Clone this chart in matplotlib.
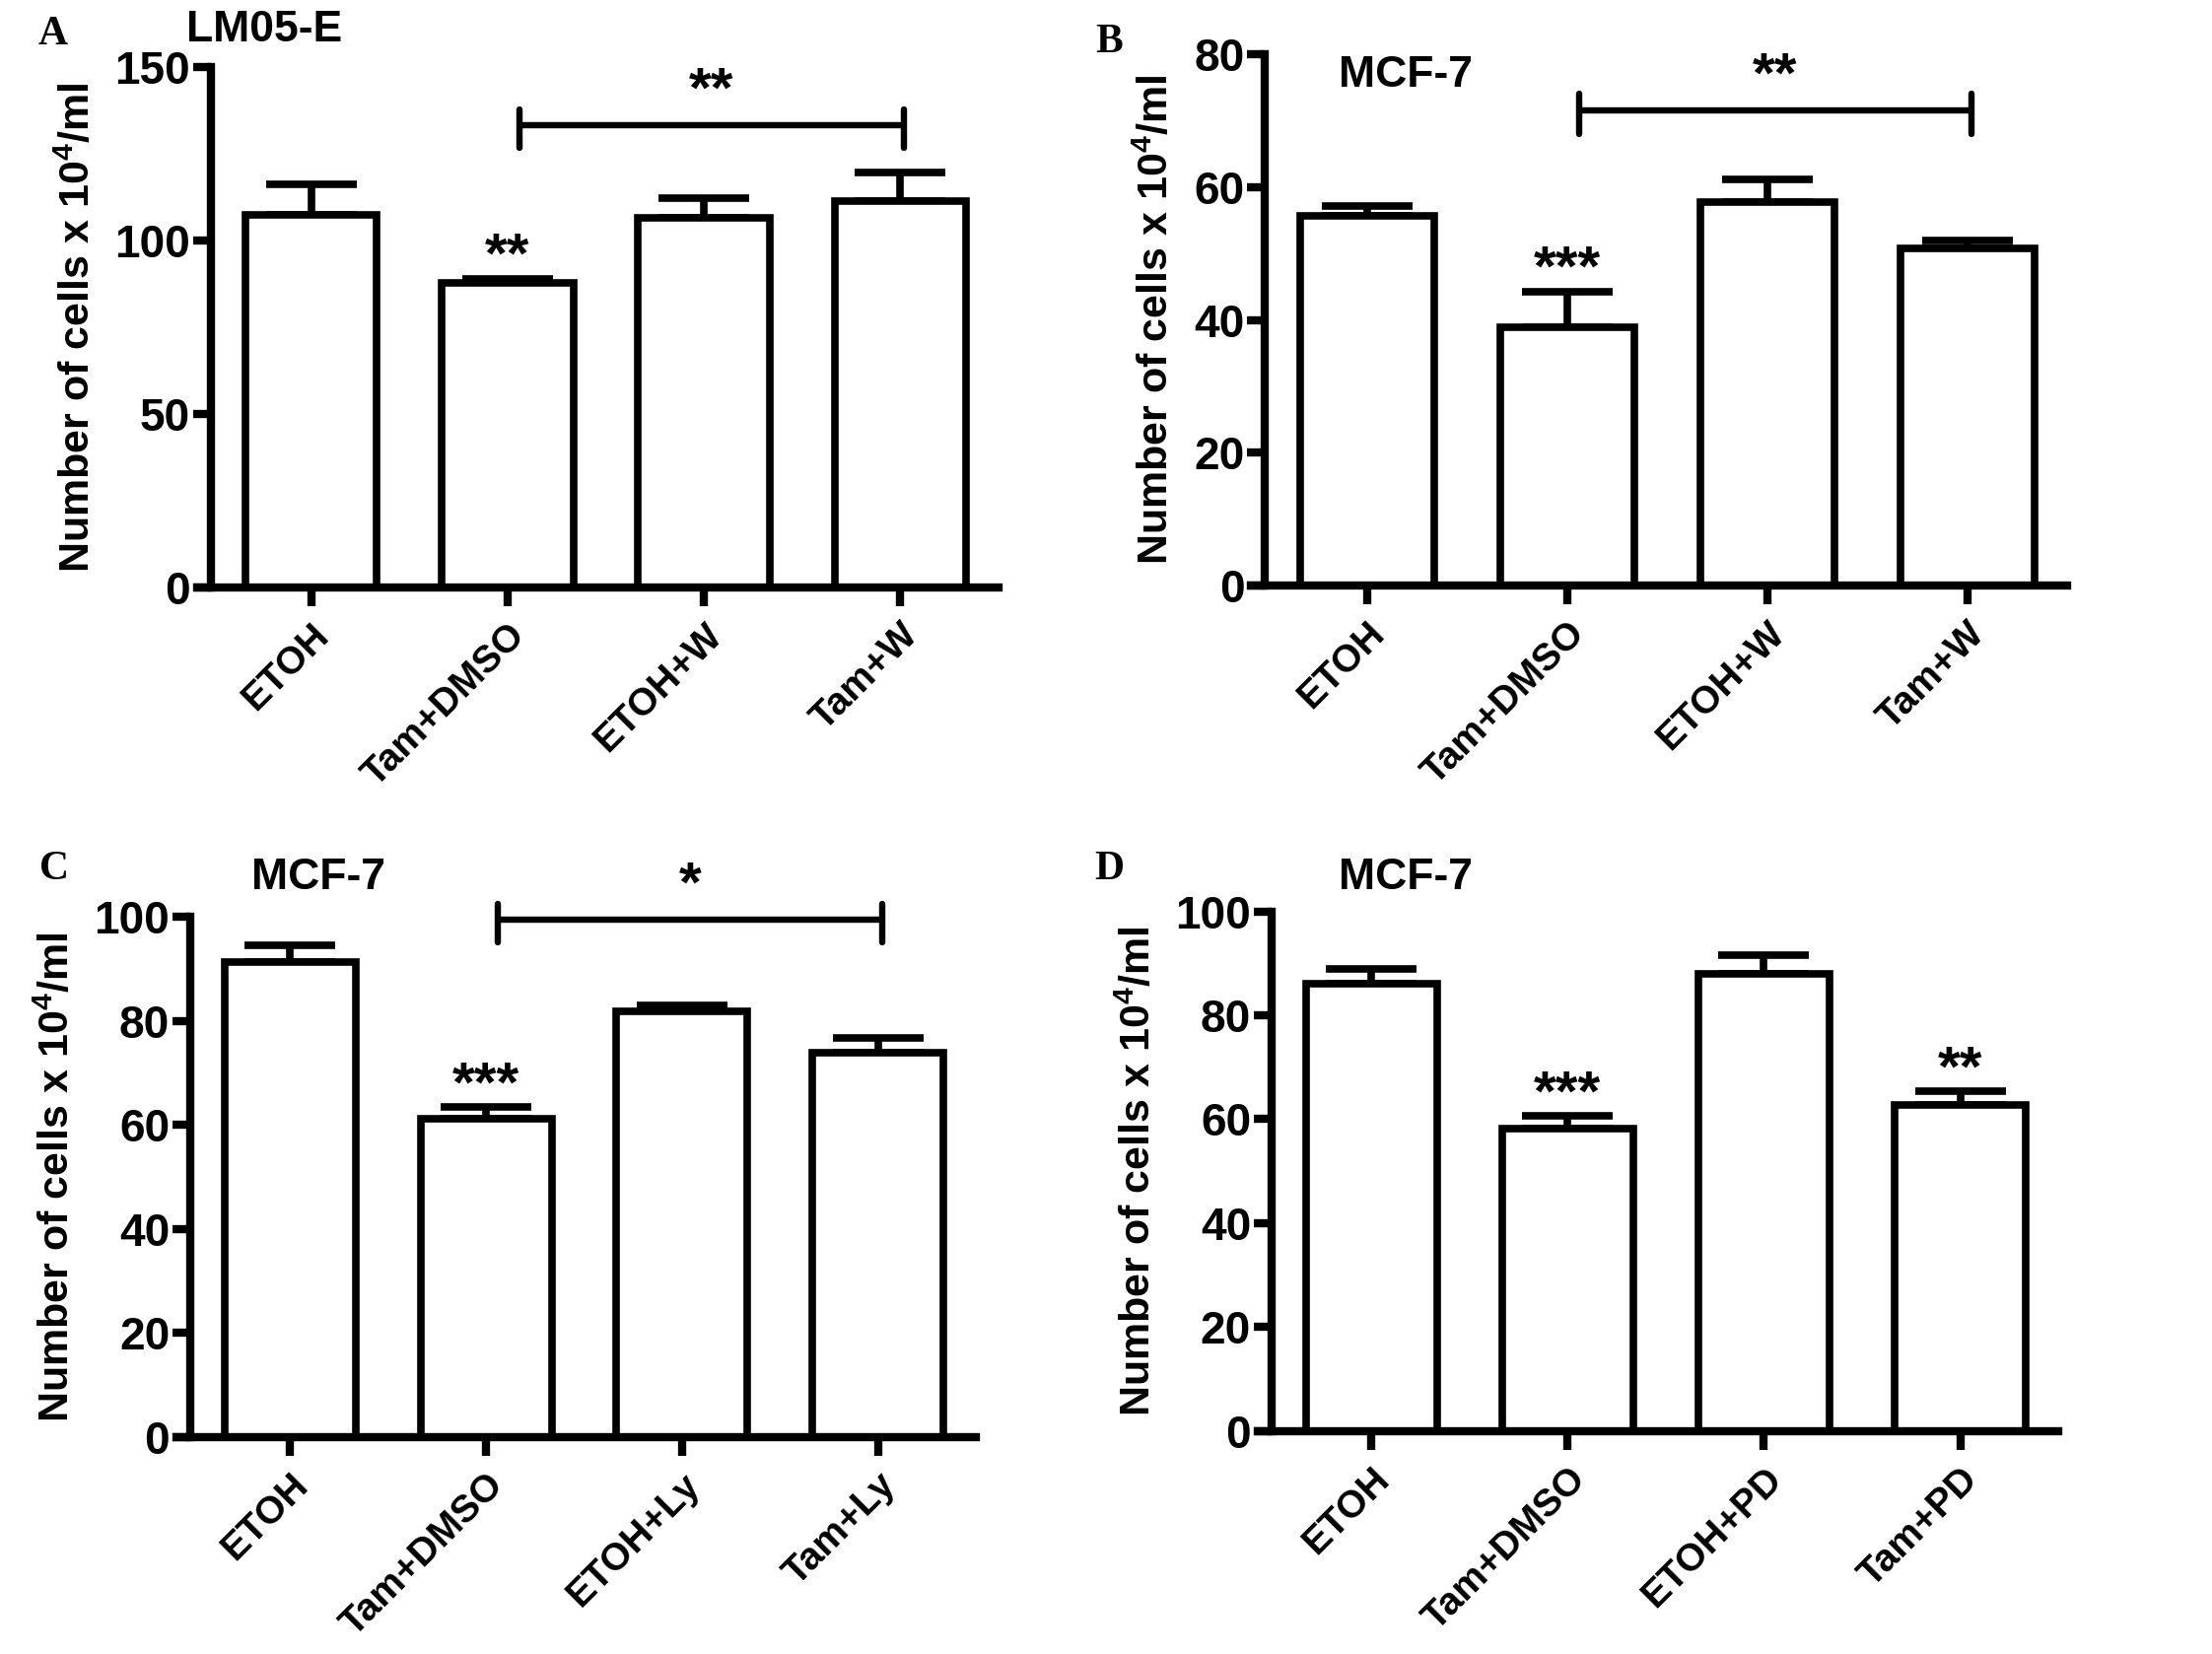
import matplotlib
matplotlib.use("Agg")
import matplotlib.pyplot as plt
from matplotlib import font_manager

# ---------------------------------------------------------------------------
# Data
# ---------------------------------------------------------------------------

cats_a = ["ETOH", "Tam+DMSO", "ETOH+W", "Tam+W"]
vals_a = [107.3, 87.7, 106.5, 111.4]
errs_a = [8.8, 1.3, 5.8, 8.2]
stars_a = ["", "**", "", ""]
ticks_a = [0, 50, 100, 150]

cats_b = ["ETOH", "Tam+DMSO", "ETOH+W", "Tam+W"]
vals_b = [55.6, 38.9, 57.7, 50.8]
errs_b = [1.6, 5.4, 3.5, 1.1]
stars_b = ["", "***", "", ""]
ticks_b = [0, 20, 40, 60, 80]

cats_c = ["ETOH", "Tam+DMSO", "ETOH+Ly", "Tam+Ly"]
vals_c = [91.2, 61.2, 81.9, 73.9]
errs_c = [3.3, 2.3, 1.1, 2.8]
stars_c = ["", "***", "", ""]
ticks_c = [0, 20, 40, 60, 80, 100]

cats_d = ["ETOH", "Tam+DMSO", "ETOH+PD", "Tam+PD"]
vals_d = [86.0, 58.1, 88.0, 62.7]
errs_d = [3.0, 2.6, 3.6, 2.6]
stars_d = ["", "***", "", "**"]
ticks_d = [0, 20, 40, 60, 80, 100]

# bracket: (from bar, to bar, level, label)
bracket_a = (1, 3, 133.3, "**")
bracket_b = (1, 3, 71.6, "**")
bracket_c = (1, 3, 99.5, "*")
bracket_d = None

titles = ["LM05-E", "MCF-7", "MCF-7", "MCF-7"]
letters = ["A", "B", "C", "D"]

# ---------------------------------------------------------------------------
# Fonts
# ---------------------------------------------------------------------------

installed = {f.name for f in font_manager.fontManager.ttflist}
NARROW = "Liberation Sans Narrow" if "Liberation Sans Narrow" in installed else "Liberation Sans"
SANS = "Liberation Sans"
SERIF = "Liberation Serif"

plt.rcParams["font.family"] = [NARROW, "DejaVu Sans"]
plt.rcParams["font.weight"] = "bold"
plt.rcParams["axes.labelweight"] = "bold"
plt.rcParams["mathtext.fontset"] = "custom"
plt.rcParams["mathtext.rm"] = NARROW + ":bold"
plt.rcParams["mathtext.bf"] = NARROW + ":bold"
plt.rcParams["mathtext.default"] = "bf"

LW = 5.5

# ---------------------------------------------------------------------------
# Drawing
# ---------------------------------------------------------------------------


def draw_panel(ax, cats, vals, errs, stars, ticks, bracket):
    x = list(range(len(cats)))
    ax.bar(x, vals, width=0.67, color="white", edgecolor="black",
           linewidth=LW, zorder=2)
    ax.errorbar(x, vals, yerr=[[0] * len(errs), errs], fmt="none",
                ecolor="black", elinewidth=LW, capsize=33, capthick=LW,
                zorder=1)

    ymax = ticks[-1]
    ax.set_xlim(-0.58, 3.5)
    ax.set_ylim(0, ymax)
    ax.set_yticks(ticks)
    ax.set_xticks(x)
    ax.set_xticklabels(cats, rotation=45, ha="right", va="top",
                       rotation_mode="anchor", fontsize=28)
    ax.tick_params(axis="y", labelsize=33, length=13, width=6, pad=2)
    ax.tick_params(axis="x", length=14, width=6, pad=8)

    for side in ("top", "right"):
        ax.spines[side].set_visible(False)
    ax.spines["left"].set_position(("data", -0.51))
    ax.spines["left"].set_linewidth(6)
    ax.spines["bottom"].set_linewidth(6)

    ax.set_ylabel(r"Number of cells x 10$^{4}$/ml", fontsize=31, labelpad=12)

    for xi, v, e, s in zip(x, vals, errs, stars):
        if s:
            ax.annotate(s, (xi, v + e), xytext=(0, 4), textcoords="offset points",
                        ha="center", va="baseline", fontsize=42,
                        family=SANS, annotation_clip=False)

    if bracket is not None:
        i0, i1, level, label = bracket
        x0, x1 = i0 + 0.06, i1 + 0.02
        dy = ymax * 0.03
        ax.plot([x0, x1], [level, level], color="black", lw=4.6,
                solid_capstyle="butt", clip_on=False)
        for xe in (x0, x1):
            ax.plot([xe, xe], [level - dy * 1.5, level + dy], color="black",
                    lw=4.6, solid_capstyle="round", clip_on=False)
        ax.annotate(label, ((x0 + x1) / 2, level), xytext=(0, 13),
                    textcoords="offset points", ha="center", va="baseline",
                    fontsize=42, family=SANS, annotation_clip=False)


fig = plt.figure(figsize=(22.44, 16.78), dpi=100)

positions = [
    [0.0891, 0.6451, 0.3623, 0.3144],
    [0.5655, 0.6460, 0.3690, 0.3212],
    [0.0798, 0.1311, 0.3614, 0.3147],
    [0.5686, 0.1349, 0.3619, 0.3141],
]
panels = [
    (cats_a, vals_a, errs_a, stars_a, ticks_a, bracket_a),
    (cats_b, vals_b, errs_b, stars_b, ticks_b, bracket_b),
    (cats_c, vals_c, errs_c, stars_c, ticks_c, bracket_c),
    (cats_d, vals_d, errs_d, stars_d, ticks_d, bracket_d),
]

for pos, args in zip(positions, panels):
    ax = fig.add_axes(pos)
    draw_panel(ax, *args)

# panel titles and letters (pixel positions in the 2244x1678 canvas)
W, H = 2244, 1678
title_xy = [(268, 30), (1426, 76), (323, 891), (1426, 891)]
letter_xy = [(54, 35), (1125, 43), (55, 882), (1125, 882)]

for t, (px, py) in zip(titles, title_xy):
    fig.text(px / W, 1 - py / H, t, ha="center", va="center",
             fontsize=32, family=SANS, weight="bold")
for t, (px, py) in zip(letters, letter_xy):
    fig.text(px / W, 1 - py / H, t, ha="center", va="center",
             fontsize=30, family=SERIF, weight="bold")

fig.savefig("out.png", dpi=100, facecolor="white")
